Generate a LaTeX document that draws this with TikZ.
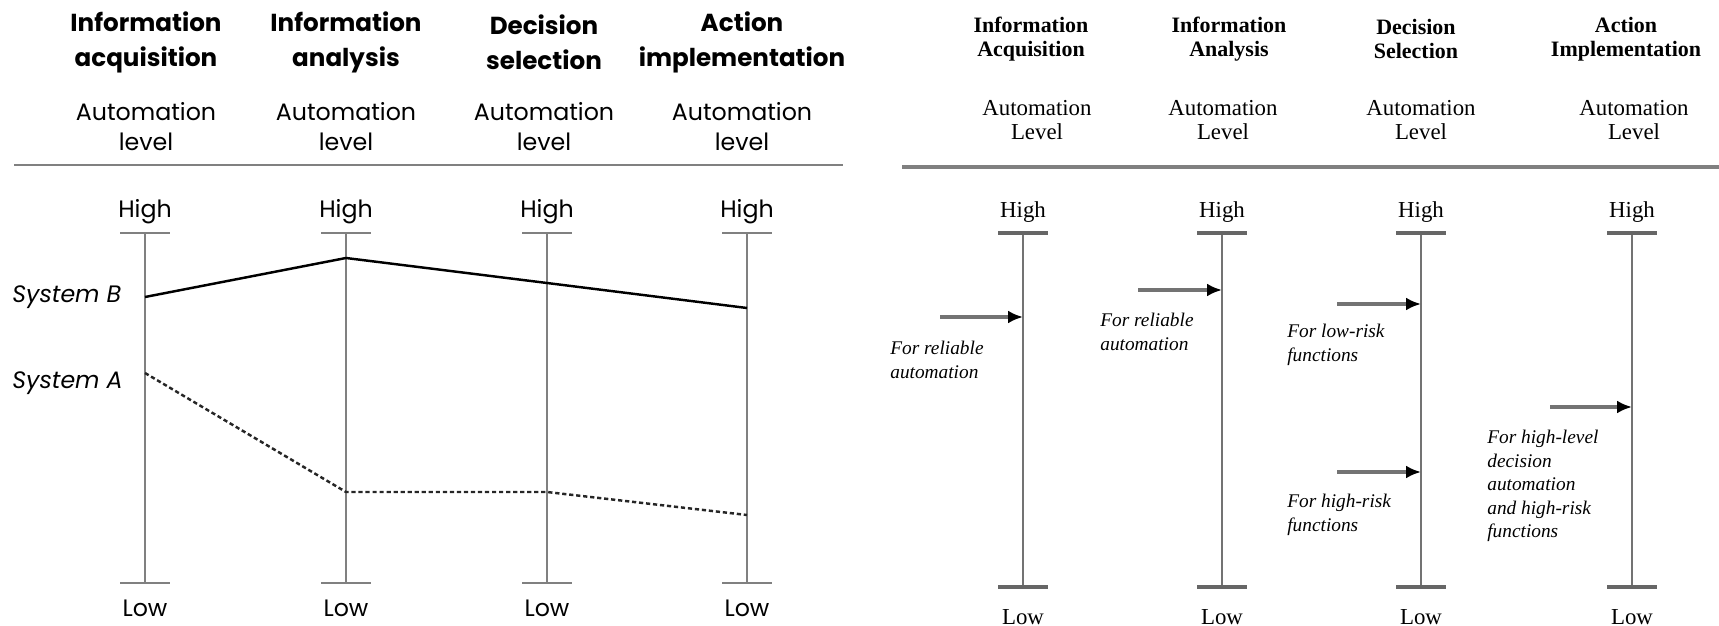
\documentclass[tikz,border=0pt]{standalone}
\usepackage{fontspec}
\setmainfont{Liberation Serif}
\newfontfamily\geofont{Poppins}
\usetikzlibrary{arrows.meta}

\tikzset{
  lhead/.style={inner sep=0pt, align=center, font={\geofont\fontsize{14}{20}\selectfont\bfseries}},
  llevel/.style={inner sep=0pt, align=center, font={\geofont\fontsize{13.5}{17}\selectfont}},
  lend/.style={inner sep=0pt, font={\geofont\fontsize{13.5}{17}\selectfont}},
  lsys/.style={inner sep=0pt, anchor=west, font={\geofont\fontsize{13.5}{17}\selectfont\itshape}},
  laxis/.style={draw=black!50, line width=0.9pt},
  sysB/.style={draw=black, line width=1.4pt},
  sysA/.style={draw=black!85, line width=1.4pt, dash pattern=on 2.4pt off 1.6pt},
  rhead/.style={inner sep=0pt, align=center, font={\fontsize{12.5}{13.6}\selectfont\bfseries}},
  rlevel/.style={inner sep=0pt, align=center, font={\fontsize{13}{13.6}\selectfont}},
  rend/.style={inner sep=0pt, font={\fontsize{13}{15}\selectfont}},
  rnote/.style={inner sep=0pt, anchor=west, align=left, font={\fontsize{11}{13.4}\selectfont\itshape}},
  raxis/.style={draw=black!55, line width=1.2pt},
  rtick/.style={draw=black!60, line width=1.8pt},
  rarrow/.style={draw=black!55, line width=1.8pt, -{Latex[length=3mm,width=2.6mm,color=black]}}
}

\begin{document}
\begin{tikzpicture}[x=0.2mm,y=-0.2mm]
\useasboundingbox (0,0) rectangle (1719,626);

% left panel: headings
\node[lhead] (lh1) at (146,42) {Information\\acquisition};
\node[lhead] (lh2) at (346,42) {Information\\analysis};
\node[lhead] (lh3) at (544,42) {Decision\\selection};
\node[lhead] (lh4) at (742,42) {Action\\implementation};
\foreach \i/\x in {1/146,2/346,3/544,4/742}
  \node[llevel] (ll\i) at (\x,127) {Automation\\level};
\draw[laxis, line width=1.2pt] (14,165) -- (843,165);

% left panel: scales
\foreach \i/\x in {1/145,2/346,3/547,4/747} {
  \node[lend] (lhi\i) at (\x,212) {High};
  \node[lend] (llo\i) at (\x,608) {Low};
  \coordinate (ltop\i) at (\x,233);
  \coordinate (lbot\i) at (\x,583);
  \draw[laxis] (ltop\i) -- (lbot\i);
  \draw[laxis] ([xshift=-5mm]ltop\i) -- ([xshift=5mm]ltop\i);
  \draw[laxis] ([xshift=-5mm]lbot\i) -- ([xshift=5mm]lbot\i);
}

% systems
\coordinate (b1) at (145,297);
\coordinate (b2) at (346,258);
\coordinate (b3) at (547,283);
\coordinate (b4) at (747,308);
\coordinate (a1) at (145,373);
\coordinate (a2) at (346,492);
\coordinate (a3) at (547,492);
\coordinate (a4) at (747,515);
\draw[sysB] (b1) -- (b2) -- (b3) -- (b4);
\draw[sysA] (a1) -- (a2) -- (a3) -- (a4);
\node[lsys] (sysb) at (12,297) {System B};
\node[lsys] (sysa) at (12,383) {System A};

% right panel: headings
\node[rhead] (rh1) at (1031,39) {Information\\Acquisition};
\node[rhead] (rh2) at (1229,39) {Information\\Analysis};
\node[rhead] (rh3) at (1416,39) {Decision\\Selection};
\node[rhead] (rh4) at (1626,39) {Action\\Implementation};
\foreach \i/\x in {1/1037,2/1223,3/1421,4/1634}
  \node[rlevel] (rl\i) at (\x,120) {Automation\\Level};
\draw[draw=black!50, line width=2.6pt] (902,167) -- (1719,167);

% right panel: scales
\foreach \i/\x in {1/1023,2/1222,3/1421,4/1632} {
  \node[rend] (rhi\i) at (\x,212) {High};
  \node[rend] (rlo\i) at (\x,617) {Low};
  \coordinate (rtop\i) at (\x,233);
  \coordinate (rbot\i) at (\x,587);
  \draw[raxis] (rtop\i) -- (rbot\i);
  \draw[rtick] ([xshift=-5mm]rtop\i) -- ([xshift=5mm]rtop\i);
  \draw[rtick] ([xshift=-5mm]rbot\i) -- ([xshift=5mm]rbot\i);
}

% recommended levels
\coordinate (p1s) at (940,317);  \coordinate (p1) at (1023,317);
\coordinate (p2s) at (1138,290); \coordinate (p2) at (1222,290);
\coordinate (p3s) at (1337,304); \coordinate (p3) at (1421,304);
\coordinate (p4s) at (1337,472); \coordinate (p4) at (1421,472);
\coordinate (p5s) at (1550,407); \coordinate (p5) at (1632,407);
\foreach \i in {1,...,5}
  \draw[rarrow] (p\i s) -- (p\i);
\node[rnote] (n1) at (890,360) {For reliable\\automation};
\node[rnote] (n2) at (1100,332) {For reliable\\automation};
\node[rnote] (n3) at (1287,345) {For low-risk\\functions};
\node[rnote] (n4) at (1287,515) {For high-risk\\functions};
\node[rnote] (n5) at (1487,486) {For high-level\\decision\\automation\\and high-risk\\functions};
\end{tikzpicture}
\end{document}
